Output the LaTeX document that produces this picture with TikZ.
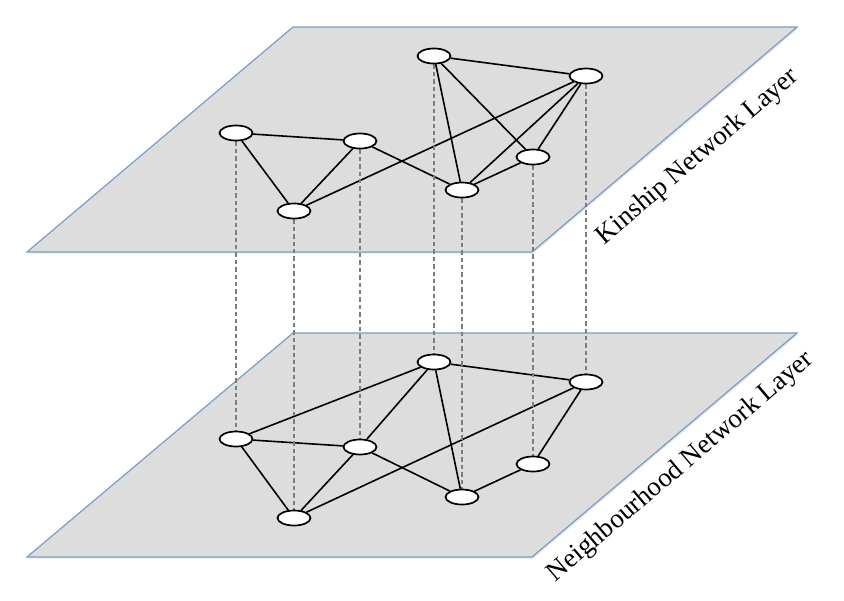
\documentclass[tikz,border=0pt]{standalone}
\usepackage{fontspec}
\setmainfont{Liberation Serif}
\usetikzlibrary{shapes.geometric, shadows}
\pgfdeclarelayer{planes}
\pgfdeclarelayer{links}
\pgfsetlayers{planes,links,main}
\definecolor{planefill}{RGB}{221,221,221}
\definecolor{planeedge}{RGB}{122,156,198}
\definecolor{dashgray}{RGB}{125,125,125}

\begin{document}
\begin{tikzpicture}[
    x=0.5pt, y=-0.5pt,
    person/.style={draw, ellipse, fill=white, line width=0.85pt, minimum width=16.5pt, minimum height=7.5pt, inner sep=0pt},
    tie/.style={line width=0.8pt},
    layer/.style={fill=planefill, draw=planeedge, line width=0.6pt, drop shadow={opacity=0.2, shadow xshift=0.6pt, shadow yshift=-0.8pt}},
    vlink/.style={draw=dashgray, line width=0.6pt, dash pattern=on 2.2pt off 1.5pt},
    caption/.style={font=\fontsize{13.5}{16}\selectfont, rotate=40.4}
]
\useasboundingbox (0,0) rectangle (844,600);

% Planes
\begin{pgfonlayer}{planes}
\filldraw[layer] (293,27) -- (797,27) -- (532,252) -- (27,252) -- cycle;
\filldraw[layer] (293,333) -- (797,333) -- (532,557) -- (27,557) -- cycle;
\end{pgfonlayer}

% Kinship nodes
\node[person] (kinA) at (236,133) {};
\node[person] (kinB) at (360,141) {};
\node[person] (kinC) at (294,211) {};
\node[person] (kinD) at (434,56) {};
\node[person] (kinE) at (586,76) {};
\node[person] (kinF) at (533,157) {};
\node[person] (kinG) at (462,190) {};

% Neighbourhood nodes
\node[person] (nbrA) at (236,439) {};
\node[person] (nbrB) at (360,447) {};
\node[person] (nbrC) at (294,518) {};
\node[person] (nbrD) at (434,362) {};
\node[person] (nbrE) at (586,382) {};
\node[person] (nbrF) at (533,464) {};
\node[person] (nbrG) at (462,497) {};

\begin{pgfonlayer}{links}
% Kinship ties
\draw[tie] (kinA) -- (kinB);
\draw[tie] (kinA) -- (kinC);
\draw[tie] (kinB) -- (kinC);
\draw[tie] (kinC) -- (kinE);
\draw[tie] (kinB) -- (kinG);
\draw[tie] (kinD) -- (kinE);
\draw[tie] (kinD) -- (kinG);
\draw[tie] (kinD) -- (kinF);
\draw[tie] (kinE) -- (kinG);
\draw[tie] (kinE) -- (kinF);
\draw[tie] (kinG) -- (kinF);

% Neighbourhood ties
\draw[tie] (nbrA) -- (nbrD);
\draw[tie] (nbrA) -- (nbrB);
\draw[tie] (nbrA) -- (nbrC);
\draw[tie] (nbrB) -- (nbrC);
\draw[tie] (nbrB) -- (nbrD);
\draw[tie] (nbrB) -- (nbrG);
\draw[tie] (nbrC) -- (nbrE);
\draw[tie] (nbrD) -- (nbrG);
\draw[tie] (nbrD) -- (nbrE);
\draw[tie] (nbrE) -- (nbrF);
\draw[tie] (nbrF) -- (nbrG);

% Same actor across layers
\draw[vlink] (kinA) -- (nbrA);
\draw[vlink] (kinB) -- (nbrB);
\draw[vlink] (kinC) -- (nbrC);
\draw[vlink] (kinD) -- (nbrD);
\draw[vlink] (kinE) -- (nbrE);
\draw[vlink] (kinF) -- (nbrF);
\draw[vlink] (kinG) -- (nbrG);
\end{pgfonlayer}

% Layer labels
\node[caption] (kinlabel) at (698,157) {Kinship Network Layer};
\node[caption] (nbrlabel) at (681,467) {Neighbourhood Network Layer};

\end{tikzpicture}
\end{document}
